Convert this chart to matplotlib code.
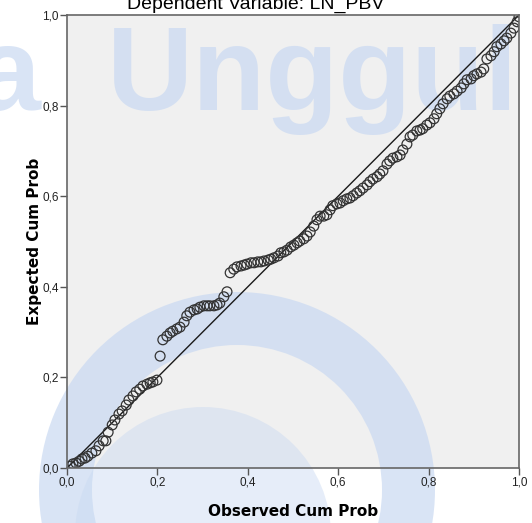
import numpy as np
import matplotlib
matplotlib.use('Agg')
import matplotlib.pyplot as plt
from matplotlib.patches import Wedge, Circle
from matplotlib.transforms import Affine2D
from matplotlib.ticker import FuncFormatter

plt.rcParams['font.family'] = ['Liberation Sans', 'DejaVu Sans']

# P-P plot values
observed = [0.007, 0.013, 0.020, 0.027, 0.033, 0.040, 0.046, 0.055, 0.064, 0.071,
            0.080, 0.086, 0.091, 0.100, 0.106, 0.115, 0.122, 0.131, 0.137, 0.146,
            0.153, 0.161, 0.168, 0.177, 0.184, 0.190, 0.199, 0.206, 0.212, 0.221,
            0.228, 0.234, 0.243, 0.250, 0.259, 0.265, 0.272, 0.281, 0.288, 0.294,
            0.303, 0.310, 0.316, 0.325, 0.332, 0.338, 0.347, 0.354, 0.361, 0.369,
            0.376, 0.385, 0.392, 0.398, 0.407, 0.414, 0.422, 0.429, 0.436, 0.445,
            0.451, 0.458, 0.467, 0.473, 0.480, 0.487, 0.495, 0.502, 0.509, 0.515,
            0.524, 0.531, 0.538, 0.546, 0.553, 0.560, 0.568, 0.575, 0.582, 0.588,
            0.597, 0.604, 0.611, 0.619, 0.626, 0.633, 0.641, 0.648, 0.655, 0.664,
            0.670, 0.677, 0.686, 0.692, 0.699, 0.708, 0.714, 0.721, 0.730, 0.737,
            0.743, 0.752, 0.759, 0.765, 0.774, 0.781, 0.787, 0.796, 0.803, 0.812,
            0.818, 0.825, 0.832, 0.841, 0.847, 0.856, 0.863, 0.872, 0.878, 0.885,
            0.894, 0.900, 0.907, 0.916, 0.922, 0.929, 0.938, 0.945, 0.951, 0.960,
            0.967, 0.973, 0.982, 0.989, 0.996, 1.000]
expected = [0.004, 0.009, 0.011, 0.015, 0.020, 0.022, 0.026, 0.033, 0.038, 0.049,
            0.060, 0.060, 0.079, 0.095, 0.106, 0.119, 0.126, 0.139, 0.150, 0.159,
            0.168, 0.174, 0.181, 0.185, 0.188, 0.190, 0.194, 0.247, 0.283, 0.291,
            0.298, 0.302, 0.307, 0.311, 0.322, 0.336, 0.344, 0.349, 0.351, 0.355,
            0.358, 0.358, 0.358, 0.358, 0.360, 0.364, 0.378, 0.389, 0.431, 0.439,
            0.444, 0.446, 0.448, 0.450, 0.453, 0.453, 0.455, 0.455, 0.457, 0.459,
            0.461, 0.464, 0.468, 0.475, 0.477, 0.481, 0.488, 0.492, 0.497, 0.501,
            0.506, 0.512, 0.521, 0.534, 0.548, 0.556, 0.556, 0.559, 0.570, 0.579,
            0.583, 0.585, 0.590, 0.594, 0.596, 0.601, 0.607, 0.612, 0.618, 0.625,
            0.632, 0.638, 0.643, 0.649, 0.656, 0.671, 0.678, 0.684, 0.687, 0.691,
            0.702, 0.715, 0.731, 0.735, 0.744, 0.746, 0.749, 0.757, 0.762, 0.771,
            0.782, 0.793, 0.804, 0.815, 0.821, 0.826, 0.832, 0.839, 0.848, 0.857,
            0.859, 0.866, 0.870, 0.874, 0.881, 0.903, 0.910, 0.919, 0.930, 0.936,
            0.943, 0.949, 0.960, 0.971, 0.985, 0.996]
ticks = [0.0, 0.2, 0.4, 0.6, 0.8, 1.0]

fig = plt.figure(figsize=(5.32, 5.23), dpi=100)
ax = fig.add_axes([67/532, 55/523, 452/532, 453/523])
ax.set_facecolor('#f0f0f0')

# diagonal reference line
ax.plot([0, 1], [0, 1], color='#1a1a1a', lw=1.0, zorder=3)
ax.scatter(observed, expected, s=50, facecolors='none', edgecolors='#333333',
           linewidths=0.9, zorder=4)

ax.set_xlim(0, 1)
ax.set_ylim(0, 1)
ax.set_xticks(ticks)
ax.set_yticks(ticks)
fmt = FuncFormatter(lambda v, p: ('%.1f' % v).replace('.', ','))
ax.xaxis.set_major_formatter(fmt)
ax.yaxis.set_major_formatter(fmt)
ax.tick_params(direction='out', length=5, width=1, color='#555555',
               labelsize=8.5, labelcolor='#222222', pad=1)
for s in ax.spines.values():
    s.set_color('#666666')
    s.set_linewidth(1.2)
    s.set_zorder(5)

ax.set_xlabel('Observed Cum Prob', fontsize=11, fontweight='bold', labelpad=11,
              family='DejaVu Sans')
ax.set_ylabel('Expected Cum Prob', fontsize=11, fontweight='bold', labelpad=0,
              family='DejaVu Sans')
fig.text(0.481, 1 - 9/523, 'Dependent Variable: LN_PBV', ha='center',
         va='baseline', fontsize=14)

# faint logo watermark behind the points (pixel coords, origin top-left)
px = Affine2D().scale(1, -1).translate(0, 523)
wm = '#c9d9f2'
ax.text(107, 110, 'Unggul', transform=px, fontsize=86, fontweight='bold',
        color=wm, alpha=0.7, ha='left', va='baseline', zorder=1, clip_on=False)
ax.text(42, 110, 'sa', transform=px, fontsize=86, fontweight='bold',
        color=wm, alpha=0.7, ha='right', va='baseline', zorder=1, clip_on=False)
ax.add_patch(Wedge((237, 490), 198, 0, 360, width=53, transform=px,
                   color=wm, alpha=0.7, lw=0, zorder=1, clip_on=False))
ax.add_patch(Circle((203, 535), 128, transform=px, color=wm, alpha=0.45,
                    lw=0, zorder=1, clip_on=False))

fig.savefig('out.png', dpi=100)
